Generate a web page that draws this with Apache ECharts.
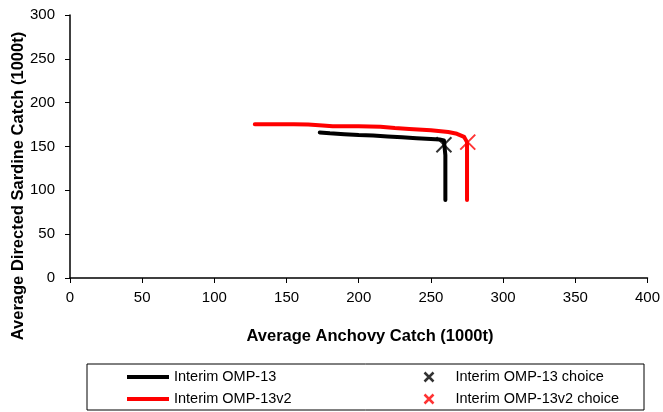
<!DOCTYPE html>
<html>
<head>
<meta charset="utf-8">
<script src="https://cdn.jsdelivr.net/npm/echarts@6/dist/echarts.min.js"></script>
<style>html,body{margin:0;padding:0;background:#fff}#c{width:663px;height:412px}</style>
</head>
<body>
<div id="c"></div>
<script>
var xTicks = [0, 50, 100, 150, 200, 250, 300, 350, 400];
var yTicks = [0, 50, 100, 150, 200, 250, 300];
var omp13 = [[173,166],[180,165],[190,164],[200,163],[210,162.5],[220,161.5],[230,160.5],[240,159.5],[250,158.5],[256,158],[259,157],[260,155],[260,140],[260,89]];
var omp13v2 = [[128,175.5],[140,175.5],[155,175.5],[165,175],[175,174],[182,173],[200,173],[215,172.5],[225,171],[235,170],[250,168.5],[262,166.5],[268,164.5],[273,161],[275,155],[275,89]];
var omp13Choice = [[259,152]];
var omp13v2Choice = [[275.5,155]];
var names = ['Interim OMP-13', 'Interim OMP-13v2', 'Interim OMP-13 choice', 'Interim OMP-13v2 choice'];
var xTitle = 'Average Anchovy Catch (1000t)';
var yTitle = 'Average Directed Sardine Catch (1000t)';

var cross = 'path://M0,0L10,10M10,0L0,10';
var chart = echarts.init(document.getElementById('c'), null, {renderer: 'canvas'});
var font = 'Liberation Sans, Arial, sans-serif';
chart.setOption({
  animation: false,
  backgroundColor: '#fff',
  textStyle: {fontFamily: font},
  grid: {left: 70, right: 15, top: 15, bottom: 134},
  xAxis: {
    type: 'value', min: xTicks[0], max: xTicks[xTicks.length - 1], interval: 50,
    axisLine: {lineStyle: {color: '#000', width: 1.5}},
    axisTick: {show: true, length: 5, lineStyle: {color: '#000'}},
    axisLabel: {color: '#000', fontSize: 15, fontFamily: font, margin: 12},
    splitLine: {show: false}
  },
  yAxis: {
    type: 'value', min: yTicks[0], max: yTicks[yTicks.length - 1], interval: 50,
    axisLine: {show: true, lineStyle: {color: '#000', width: 1.5}},
    axisTick: {show: true, length: 5, lineStyle: {color: '#000'}},
    axisLabel: {color: '#000', fontSize: 15, fontFamily: font, margin: 15},
    splitLine: {show: false}
  },
  legend: [{
    left: 127, top: 369, orient: 'vertical', itemGap: 6, padding: 0,
    itemWidth: 42, itemHeight: 4, icon: 'rect',
    textStyle: {fontSize: 14.5, lineHeight: 16, color: '#000', fontFamily: font},
    data: [names[0], names[1]]
  }, {
    left: 422, top: 369, orient: 'vertical', itemGap: 6, padding: 0,
    itemWidth: 9, itemHeight: 9,
    textStyle: {fontSize: 14.5, lineHeight: 16, color: '#000', fontFamily: font, padding: [0, 0, 0, 17]},
    data: [
      {name: names[2], icon: cross, itemStyle: {color: 'none', borderColor: '#000', borderWidth: 2.5}},
      {name: names[3], icon: cross, itemStyle: {color: 'none', borderColor: '#ff0000', borderWidth: 2.5}}
    ]
  }],
  graphic: [{
    type: 'rect', shape: {x: 87, y: 364, width: 557, height: 46},
    style: {fill: 'none', stroke: '#000', lineWidth: 1}, z: 0
  }, {
    type: 'text', x: 370, y: 336,
    style: {text: xTitle, fill: '#000', font: 'bold 16.5px ' + font, align: 'center', verticalAlign: 'middle'}
  }, {
    type: 'text', x: 18.5, y: 186, rotation: Math.PI / 2,
    style: {text: yTitle, fill: '#000', font: 'bold 16.5px ' + font, align: 'center', verticalAlign: 'middle'}
  }],
  series: [{
    name: names[0], type: 'line', data: omp13, showSymbol: false, symbol: 'none',
    lineStyle: {color: '#000', width: 4, cap: 'round', join: 'round'}, itemStyle: {color: '#000'}, z: 2
  }, {
    name: names[1], type: 'line', data: omp13v2, showSymbol: false, symbol: 'none',
    lineStyle: {color: '#ff0000', width: 4, cap: 'round', join: 'round'}, itemStyle: {color: '#ff0000'}, z: 3
  }, {
    name: names[2], type: 'scatter', data: omp13Choice, symbol: cross, symbolSize: 15,
    itemStyle: {color: 'none', borderColor: '#000', borderWidth: 2}, z: 5
  }, {
    name: names[3], type: 'scatter', data: omp13v2Choice, symbol: cross, symbolSize: 15,
    itemStyle: {color: 'none', borderColor: '#ff0000', borderWidth: 2}, z: 4
  }]
});
</script>
</body>
</html>
